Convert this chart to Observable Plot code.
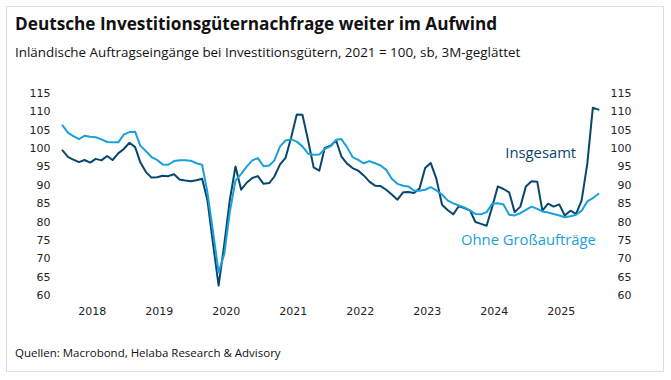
<!DOCTYPE html>
<html>
<head>
<meta charset="utf-8">
<script src="https://cdn.jsdelivr.net/npm/d3@7"></script>
<script src="https://cdn.jsdelivr.net/npm/@observablehq/plot@0.6"></script>
<style>
  html, body { margin: 0; padding: 0; background: #fff; }
  body { width: 671px; height: 380px; position: relative; overflow: hidden; }
  #card { position: absolute; left: 6px; top: 6px; width: 658px; height: 366px; border: 1px solid #dedede; box-sizing: border-box; }
  #title { position: absolute; left: 15px; top: 12px; font-family: "Open Sans", sans-serif; font-weight: 700; font-size: 17.2px; color: #111; white-space: nowrap; }
  #subtitle { position: absolute; left: 15px; top: 43px; font-family: "Open Sans", sans-serif; font-size: 13.4px; color: #111; white-space: nowrap; }
  #caption { position: absolute; left: 15px; top: 345px; font-family: "Open Sans", sans-serif; font-size: 11.5px; color: #111; white-space: nowrap; }
  #chart { position: absolute; left: 0; top: 80px; }
</style>
</head>
<body>
<div id="card"></div>
<div id="title">Deutsche Investitionsgüternachfrage weiter im Aufwind</div>
<div id="subtitle">Inländische Auftragseingänge bei Investitionsgütern, 2021 = 100, sb, 3M-geglättet</div>
<div id="chart"></div>
<div id="caption">Quellen: Macrobond, Helaba Research &amp; Advisory</div>
<script>
const startYear = 2018, startMonth = 0; // Jan 2018, monthly
const insgesamt = [
  99.5, 97.7, 97.0, 96.3, 96.9, 96.2, 97.2, 96.8, 98.0, 96.9, 98.7, 99.9,
  101.6, 100.4, 96.3, 93.6, 92.1, 92.2, 92.6, 92.5, 93.0, 91.6, 91.3, 91.1,
  91.4, 91.8, 86.0, 74.0, 62.7, 74.0, 86.0, 95.1, 88.8, 90.7, 92.0, 92.5,
  90.4, 90.6, 92.4, 95.7, 97.5, 103.1, 109.3, 109.2, 102.2, 94.9, 94.0, 100.2,
  100.8, 102.2, 97.9, 95.9, 94.7, 94.0, 92.7, 91.0, 89.9, 89.8, 88.8, 87.5,
  86.1, 88.1, 88.2, 87.9, 89.1, 94.7, 96.1, 91.8, 84.7, 83.3, 82.1, 84.3,
  83.8, 83.1, 80.0, 79.5, 79.0, 84.2, 89.7, 89.0, 88.1, 82.7, 84.2, 89.7,
  91.1, 91.0, 83.1, 85.0, 84.2, 84.8, 81.8, 83.1, 82.2, 85.9, 95.9, 111.1,
  110.6
];
const ohneGross = [
  106.3, 104.3, 103.4, 102.6, 103.5, 103.2, 103.1, 102.5, 101.8, 101.7, 101.7, 103.8,
  104.5, 104.6, 100.8, 99.3, 97.7, 96.9, 95.7, 95.6, 96.6, 96.8, 96.8, 96.7,
  96.0, 95.6, 88.1, 77.2, 66.3, 71.3, 82.7, 91.3, 93.1, 95.1, 96.8, 97.4,
  95.2, 95.4, 96.8, 100.6, 102.2, 102.5, 101.9, 100.6, 98.6, 98.3, 98.4, 99.9,
  100.6, 102.4, 102.6, 100.4, 97.7, 96.9, 96.0, 96.6, 96.0, 95.4, 94.2, 91.8,
  90.4, 89.9, 89.7, 88.6, 88.5, 88.8, 89.5, 88.6, 87.5, 85.9, 85.1, 84.5,
  84.0, 83.1, 82.2, 82.1, 82.7, 85.0, 85.1, 84.8, 82.0, 81.8, 82.4, 83.3,
  84.2, 83.6, 82.9, 82.6, 82.2, 81.8, 81.3, 81.6, 82.0, 83.1, 85.6, 86.5,
  87.7
];
const seriesNames = ["Insgesamt", "Ohne Großaufträge"];
const seriesColors = ["#07476f", "#1aa0dc"];
const yTicks = [60, 65, 70, 75, 80, 85, 90, 95, 100, 105, 110, 115];
const xTickYears = [2018, 2019, 2020, 2021, 2022, 2023, 2024, 2025];
const labelPos = [
  {name: "Insgesamt", date: new Date(Date.UTC(2025, 1, 20)), value: 98.6},
  {name: "Ohne Großaufträge", date: new Date(Date.UTC(2024, 11, 15)), value: 75.0}
];

const monthDate = i => new Date(Date.UTC(startYear, startMonth + i, 1));
const rows = [];
[insgesamt, ohneGross].forEach((arr, k) => arr.forEach((v, i) => rows.push({date: monthDate(i), value: v, series: seriesNames[k]})));

const chart = Plot.plot({
  width: 671,
  height: 245,
  marginLeft: 62,
  marginRight: 73,
  marginTop: 13,
  marginBottom: 30,
  style: {fontFamily: "DejaVu Sans, sans-serif", fontSize: "11px", color: "#222", background: "transparent"},
  x: {type: "utc", domain: [monthDate(0), monthDate(96)]},
  y: {domain: [60, 115]},
  color: {domain: seriesNames, range: seriesColors},
  marks: [
    Plot.axisY({anchor: "left", ticks: yTicks, tickSize: 0, tickPadding: 12, label: null}),
    Plot.axisY({anchor: "right", ticks: yTicks, tickSize: 0, tickPadding: 0, textAnchor: "end", dx: 33, label: null}),
    Plot.axisX({ticks: xTickYears.map(y => new Date(Date.UTC(y, 5, 12))), tickFormat: d => String(d.getUTCFullYear()), tickSize: 0, tickPadding: 12, label: null}),
    Plot.line(rows, {x: "date", y: "value", z: "series", stroke: "series", strokeWidth: 2, curve: "linear"}),
    Plot.text(labelPos, {x: "date", y: "value", text: "name", fill: "name", fontSize: 14.8, fontFamily: "Open Sans, sans-serif"})
  ]
});
document.getElementById("chart").appendChild(chart);
</script>
</body>
</html>
